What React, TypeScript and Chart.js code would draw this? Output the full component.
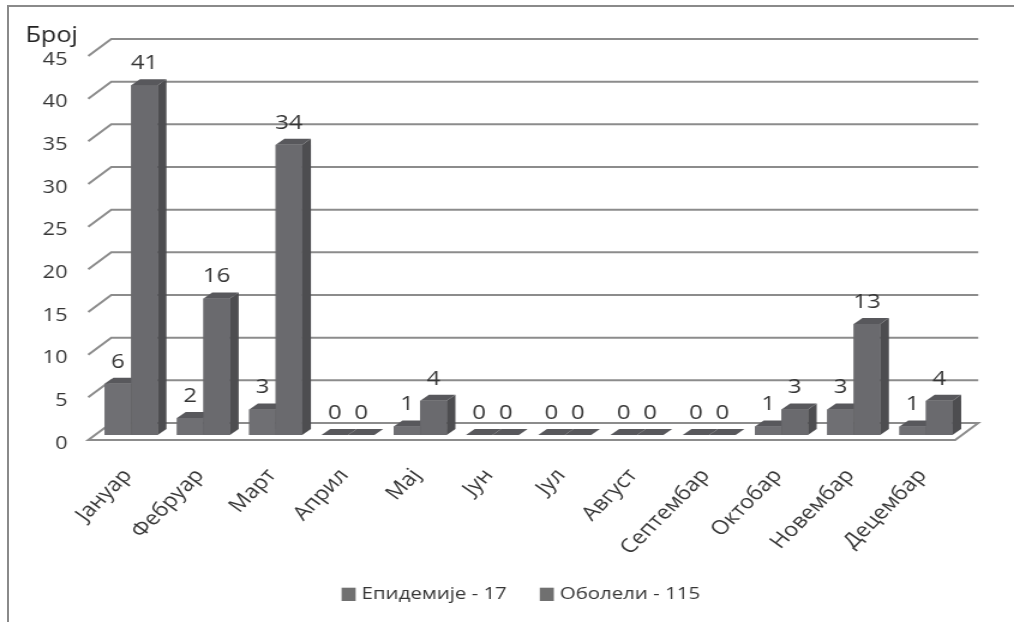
import { useEffect, useRef } from "react";
import { Chart, registerables } from "chart.js";

Chart.register(...registerables);

// Monthly counts
const months = [
  "Јануар", "Фебруар", "Март", "Април", "Мај", "Јун",
  "Јул", "Август", "Септембар", "Октобар", "Новембар", "Децембар",
];
const epidemics = [6, 2, 3, 0, 1, 0, 0, 0, 0, 1, 3, 1];
const patients = [41, 16, 34, 0, 4, 0, 0, 0, 0, 3, 13, 4];
const seriesNames = ["Епидемије - 17", "Оболели - 115"];
const yTicks = [0, 5, 10, 15, 20, 25, 30, 35, 40, 45];
const axisTitle = "Број";

// Drawing is done on a narrower canvas that is stretched horizontally.
const STRETCH = 1.2;
const W = 868;
const H = 622;
const FONT = "'Open Sans', 'DejaVu Sans', sans-serif";

// Pseudo-3D offsets (canvas units)
const BAR_DEPTH = { dx: 7.3, dy: -6 };
const FRONT = { dx: -5.7, dy: 5 };
const BACK = { dx: 13.5, dy: -12 };

const FRONT_COLORS = ["#6f6f73", "#6a6a6e"];
const SIDE_COLOR = "#4d4d50";
const TOP_COLOR = "#58585c";
const GRID_COLOR = "#8c8c8c";
const TEXT_COLOR = "#363636";

const poly = (ctx: CanvasRenderingContext2D, pts: number[][]) => {
  ctx.beginPath();
  ctx.moveTo(pts[0][0], pts[0][1]);
  for (let i = 1; i < pts.length; i++) ctx.lineTo(pts[i][0], pts[i][1]);
  ctx.closePath();
};

const depthPlugin = {
  id: "depth3d",
  beforeDatasetsDraw(chart: any) {
    const { ctx, chartArea, scales } = chart;
    const { left, right } = chartArea;
    const y = scales.y;
    const x = scales.x;
    const y0 = y.getPixelForValue(0);
    ctx.save();

    // floor
    poly(ctx, [
      [left + FRONT.dx, y0 + FRONT.dy],
      [right + FRONT.dx, y0 + FRONT.dy],
      [right + BACK.dx, y0 + BACK.dy],
      [left + BACK.dx, y0 + BACK.dy],
    ]);
    ctx.fillStyle = "#ffffff";
    ctx.fill();
    ctx.strokeStyle = GRID_COLOR;
    ctx.lineWidth = 2;
    ctx.stroke();

    // side-wall legs and back-wall gridlines
    yTicks.forEach((v) => {
      if (v === 0) return;
      const py = y.getPixelForValue(v);
      ctx.beginPath();
      ctx.moveTo(left + FRONT.dx, py + FRONT.dy);
      ctx.lineTo(left + BACK.dx, py + BACK.dy);
      ctx.lineTo(right + BACK.dx, py + BACK.dy);
      ctx.stroke();
    });

    // y tick labels
    ctx.fillStyle = TEXT_COLOR;
    ctx.font = `18px ${FONT}`;
    ctx.textAlign = "right";
    ctx.textBaseline = "alphabetic";
    yTicks.forEach((v) => {
      const py = y.getPixelForValue(v);
      ctx.fillText(String(v), 56.2, py + 13.5);
    });

    // axis title
    ctx.fillStyle = "#222222";
    ctx.font = `21px ${FONT}`;
    ctx.textAlign = "left";
    ctx.fillText(axisTitle, 21.2, 42);

    // category labels
    ctx.fillStyle = TEXT_COLOR;
    ctx.font = `19.5px ${FONT}`;
    ctx.textAlign = "right";
    ctx.textBaseline = "middle";
    const angle = (50 * Math.PI) / 180;
    months.forEach((m, i) => {
      const px = x.getPixelForValue(i);
      ctx.save();
      ctx.translate(px - 3, y0 + 37);
      ctx.rotate(-angle);
      ctx.fillText(m, 0, 0);
      ctx.restore();
    });

    // legend
    ctx.font = `17px ${FONT}`;
    ctx.textAlign = "left";
    ctx.textBaseline = "alphabetic";
    const boxW = 11.7;
    const boxGap = 5;
    const itemGap = 27.5;
    const widths = seriesNames.map((s) => ctx.measureText(s).width);
    const total =
      widths.reduce((a, b) => a + b, 0) + 2 * (boxW + boxGap) + itemGap;
    let lx = W / 2 - total / 2;
    seriesNames.forEach((s, i) => {
      ctx.fillStyle = "#707070";
      ctx.fillRect(lx, 587.7, boxW, 13.3);
      lx += boxW + boxGap;
      ctx.fillStyle = TEXT_COLOR;
      ctx.fillText(s, lx, 598.5);
      lx += widths[i] + itemGap;
    });

    ctx.restore();
  },
  afterDatasetsDraw(chart: any) {
    const { ctx } = chart;
    const metas = [chart.getDatasetMeta(0), chart.getDatasetMeta(1)];
    ctx.save();
    months.forEach((_, i) => {
      metas.forEach((meta, d) => {
        const bar = meta.data[i];
        const { x, y: top, base, width } = bar;
        const x0 = x - width / 2;
        const x1 = x + width / 2;
        if (base - top > 0.5) {
          ctx.fillStyle = FRONT_COLORS[d];
          ctx.fillRect(x0, top, width, base - top);
          poly(ctx, [
            [x1, top],
            [x1 + BAR_DEPTH.dx, top + BAR_DEPTH.dy],
            [x1 + BAR_DEPTH.dx, base + BAR_DEPTH.dy],
            [x1, base],
          ]);
          ctx.fillStyle = SIDE_COLOR;
          ctx.fill();
        }
        poly(ctx, [
          [x0, top],
          [x1, top],
          [x1 + BAR_DEPTH.dx, top + BAR_DEPTH.dy],
          [x0 + BAR_DEPTH.dx, top + BAR_DEPTH.dy],
        ]);
        ctx.fillStyle = TOP_COLOR;
        ctx.fill();
      });
    });

    // value labels
    ctx.fillStyle = TEXT_COLOR;
    ctx.font = `20px ${FONT}`;
    ctx.textAlign = "center";
    ctx.textBaseline = "alphabetic";
    metas.forEach((meta, d) => {
      const values = d === 0 ? epidemics : patients;
      meta.data.forEach((bar: any, i: number) => {
        ctx.fillText(String(values[i]), bar.x, bar.y - 16);
      });
    });
    ctx.restore();
  },
};

export default function App() {
  const canvasRef = useRef<HTMLCanvasElement | null>(null);

  useEffect(() => {
    if (!canvasRef.current) return;
    const chart = new Chart(canvasRef.current, {
      type: "bar",
      data: {
        labels: months,
        datasets: [
          {
            label: seriesNames[0],
            data: epidemics,
            backgroundColor: FRONT_COLORS[0],
            borderWidth: 0,
          },
          {
            label: seriesNames[1],
            data: patients,
            backgroundColor: FRONT_COLORS[1],
            borderWidth: 0,
          },
        ],
      },
      options: {
        responsive: false,
        animation: false,
        devicePixelRatio: 1,
        layout: {
          padding: { left: 79.2, right: W - 801.7, top: 51, bottom: H - 435 },
        },
        datasets: {
          bar: { categoryPercentage: 0.733, barPercentage: 1 },
        },
        scales: {
          x: { display: false },
          y: { display: false, min: 0, max: 45 },
        },
        plugins: {
          legend: { display: false },
          tooltip: { enabled: false },
        },
      },
      plugins: [depthPlugin],
    });
    return () => chart.destroy();
  }, []);

  return (
    <div
      style={{
        position: "absolute",
        left: 0,
        top: 0,
        width: 1014,
        height: 622,
        overflow: "hidden",
        background: "#ffffff",
      }}
    >
      <div
        style={{
          position: "absolute",
          left: 7,
          top: 5,
          width: 1100,
          height: 700,
          border: "2px solid #8a8a8a",
          boxSizing: "border-box",
        }}
      />
      <canvas
        ref={canvasRef}
        width={W}
        height={H}
        style={{
          position: "absolute",
          left: 0,
          top: 0,
          width: W,
          height: H,
          transform: `scaleX(${STRETCH})`,
          transformOrigin: "0 0",
        }}
      />
    </div>
  );
}
